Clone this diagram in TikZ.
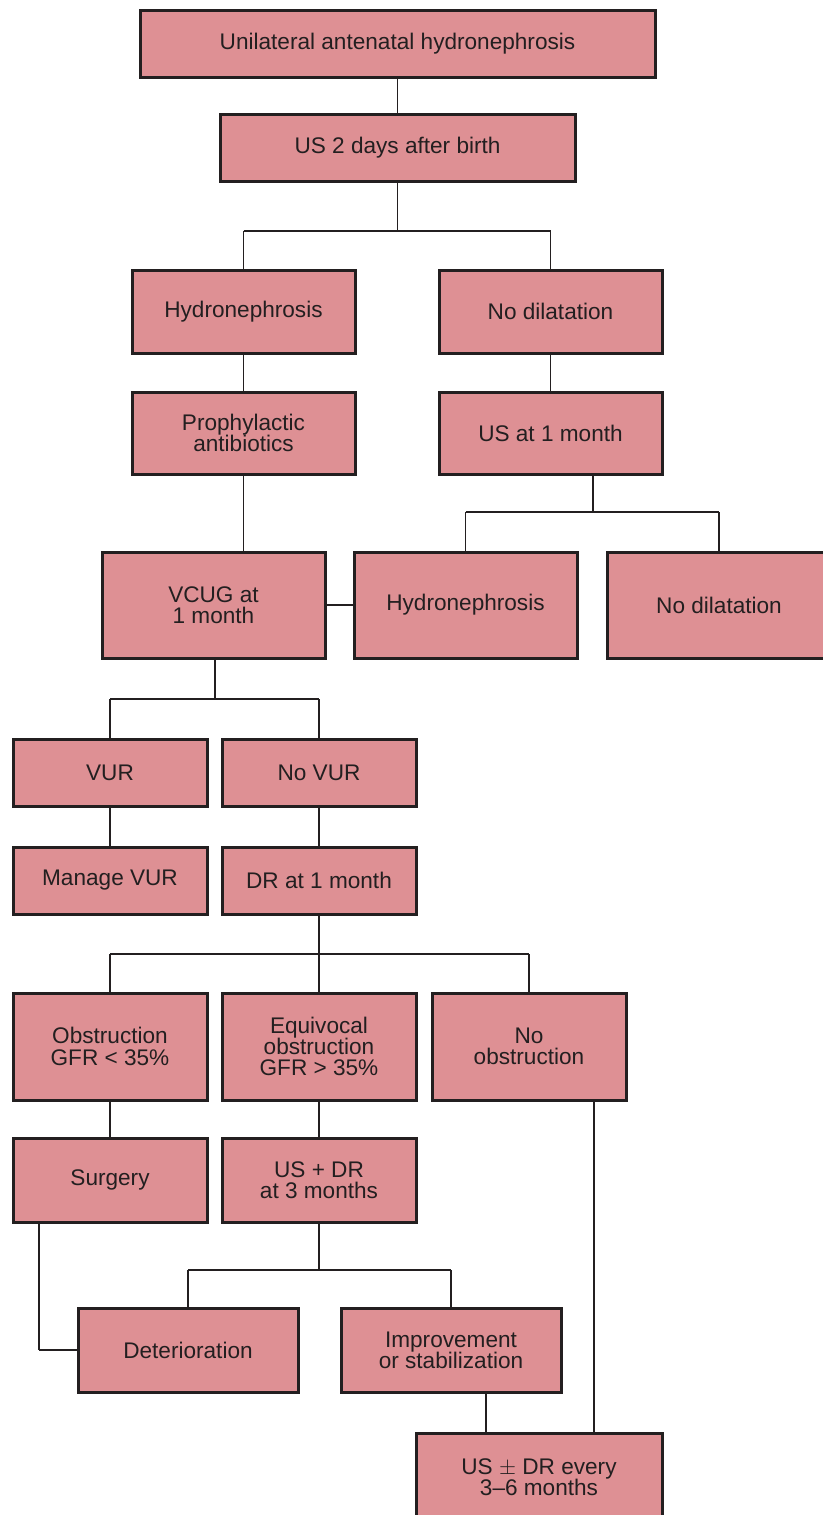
\documentclass[tikz,border=0pt]{standalone}
\usepackage{fontspec}
\setmainfont{Liberation Sans}
\usepackage{tikz}
\definecolor{boxfill}{HTML}{DE9094}
\definecolor{boxline}{HTML}{231F20}

\begin{document}
\begin{tikzpicture}[x=0.5pt, y=-0.5pt,
	box/.style={draw=boxline, line width=1.5pt, fill=boxfill, inner sep=0pt, align=center, text=boxline,
		font=\fontsize{11.3pt}{10.6pt}\selectfont},
	wh/.style 2 args={minimum width=#1*0.5pt, minimum height=#2*0.5pt},
	link/.style={draw=boxline, line width=0.6pt}]
\useasboundingbox (0,0) rectangle (823,1515);
\node[box, wh={515}{67}] (ante) at (397.5,43.5) {Unilateral antenatal hydronephrosis};
\node[box, wh={355}{67}] (usbirth) at (397.5,147.5) {US 2 days after birth};
\node[box, wh={223}{83}] (hydro) at (243.5,311.5) {Hydronephrosis};
\node[box, wh={223}{83}] (nodil) at (550.5,311.5) {No dilatation};
\node[box, wh={223}{82}] (proph) at (243.5,433) {Prophylactic\\antibiotics};
\node[box, wh={223}{82}] (usmonth) at (550.5,433) {US at 1 month};
\node[box, wh={223}{106}] (vcug) at (213.5,605) {VCUG at\\1 month};
\node[box, wh={223}{106}] (hydrob) at (465.5,605) {Hydronephrosis};
\node[box, wh={223}{106}] (nodilb) at (719,605) {No dilatation};
\node[box, wh={194}{67}] (vur) at (110,772.5) {VUR};
\node[box, wh={194}{67}] (novur) at (319,772.5) {No VUR};
\node[box, wh={194}{67}] (manvur) at (110,880.5) {Manage VUR};
\node[box, wh={194}{67}] (drmonth) at (319,880.5) {DR at 1 month};
\node[box, wh={194}{107}] (obst) at (110,1046.5) {Obstruction\\GFR < 35\%};
\node[box, wh={194}{107}] (equiv) at (319,1046.5) {Equivocal\\obstruction\\GFR > 35\%};
\node[box, wh={194}{107}] (noobst) at (529,1046.5) {No\\obstruction};
\node[box, wh={194}{84}] (surg) at (110,1180) {Surgery};
\node[box, wh={194}{84}] (usdr) at (319,1180) {US + DR\\at 3 months};
\node[box, wh={220}{84}] (deter) at (188,1350) {Deterioration};
\node[box, wh={220}{84}] (improv) at (451,1350) {Improvement\\or stabilization};
\node[box, wh={246}{88}] (follow) at (539,1477) {US $\pm$ DR every\\3--6 months};
% branch points
\coordinate (b1) at (397.5,231);
\coordinate (b2) at (593,512);
\coordinate (b3) at (215,699);
\coordinate (b4) at (319,954);
\coordinate (b5) at (319,1270);
\coordinate (b6) at (39,1350);
\coordinate (x1) at (486,0);
\coordinate (x2) at (594,0);
\path[link] (ante) edge (usbirth);
\path[link] (usbirth) edge (b1) (b1 -| hydro) edge (b1 -| nodil);
\path[link] (b1 -| hydro) edge (hydro.north) (b1 -| nodil) edge (nodil.north);
\path[link] (hydro) edge (proph) (nodil) edge (usmonth);
\path[link] (proph.south) edge (proph.south |- vcug.north);
\path[link] (b2 |- usmonth.south) edge (b2) (b2 -| hydrob) edge (b2 -| nodilb);
\path[link] (b2 -| hydrob) edge (hydrob.north) (b2 -| nodilb) edge (nodilb.north);
\path[link] (vcug) edge (hydrob);
\path[link] (b3 |- vcug.south) edge (b3) (b3 -| vur) edge (b3 -| novur);
\path[link] (b3 -| vur) edge (vur.north) (b3 -| novur) edge (novur.north);
\path[link] (vur) edge (manvur) (novur) edge (drmonth);
\path[link] (drmonth) edge (b4) (b4 -| obst) edge (b4 -| noobst);
\path[link] (b4 -| obst) edge (obst.north) (b4 -| equiv) edge (equiv.north) (b4 -| noobst) edge (noobst.north);
\path[link] (obst) edge (surg) (equiv) edge (usdr);
\path[link] (usdr) edge (b5) (b5 -| deter) edge (b5 -| improv);
\path[link] (b5 -| deter) edge (deter.north) (b5 -| improv) edge (improv.north);
\path[link] (b6 |- surg.south) edge (b6) (b6) edge (deter.west);
\path[link] (x1 |- improv.south) edge (x1 |- follow.north);
\path[link] (x2 |- noobst.south) edge (x2 |- follow.north);
\end{tikzpicture}
\end{document}
